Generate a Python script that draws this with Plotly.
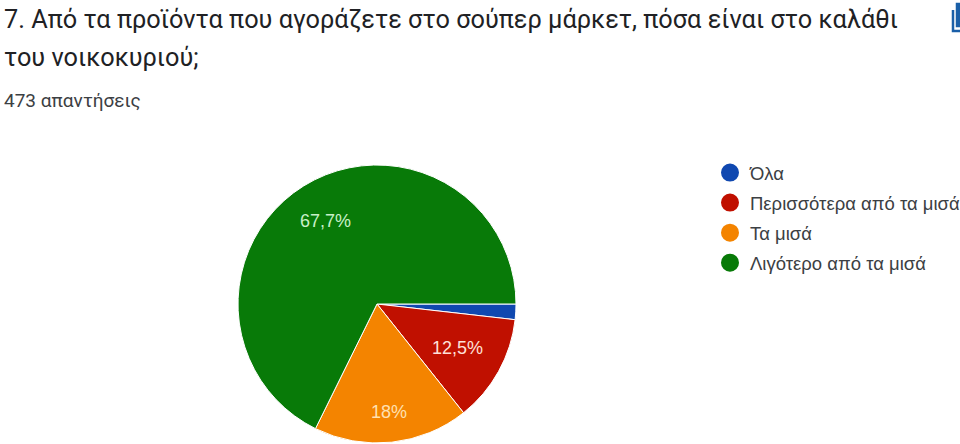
import math
import plotly.graph_objects as go

categories = ["Όλα", "Περισσότερα από τα μισά", "Τα μισά", "Λιγότερο από τα μισά"]
values = [1.8, 12.5, 18.0, 67.7]
slice_labels = ["", "12,5%", "18%", "67,7%"]
label_radius = [0.0, 0.66, 0.78, 0.70]
label_colors = ["#ffffff", "#ffe0d8", "#ffe0b0", "#c8f0c8"]
colors = ["#1048b0", "#c01000", "#f48400", "#087a08"]
title_lines = [
    "7. Από τα προϊόντα που αγοράζετε στο σούπερ μάρκετ, πόσα είναι στο καλάθι",
    "του νοικοκυριού;",
]
subtitle = "473 απαντήσεις"

W, H = 960, 444
FONT = "Roboto, Arial, sans-serif"
PIE_X0, PIE_X1, PIE_Y0, PIE_Y1 = 238, 516, 1, 279

fig = go.Figure()
fig.add_trace(go.Pie(
    labels=categories, values=values,
    textinfo="none",
    marker=dict(colors=colors, line=dict(color="#ffffff", width=1)),
    sort=False, direction="clockwise", rotation=90,
    domain=dict(x=[PIE_X0 / W, PIE_X1 / W], y=[PIE_Y0 / H, PIE_Y1 / H]),
    showlegend=False, hoverinfo="label+percent",
))
for name, color in zip(categories, colors):
    fig.add_trace(go.Scatter(
        x=[None], y=[None], mode="markers", name=name, legendgroup=name,
        marker=dict(color=color, size=16, symbol="circle", line=dict(color=color, width=2)),
    ))

# Slice labels sit on each slice's bisector, derived from the values.
cx, cy, R = (PIE_X0 + PIE_X1) / 2, (PIE_Y0 + PIE_Y1) / 2, (PIE_X1 - PIE_X0) / 2
total = sum(values)
cum = 0.0
for val, lab, rad, lc in zip(values, slice_labels, label_radius, label_colors):
    mid = (cum + val / 2) / total * 2 * math.pi
    cum += val
    if lab:
        fig.add_annotation(text=lab, x=cx + rad * R * math.cos(mid), y=cy - rad * R * math.sin(mid),
                           xref="x", yref="y", showarrow=False, xanchor="center", yanchor="middle",
                           font=dict(size=18, color=lc, family="Liberation Sans, Arial"))

fig.add_annotation(text=title_lines[0], x=2, y=H - 19, xref="x", yref="y", showarrow=False,
                   xanchor="left", yanchor="middle", font=dict(size=25.3, color="#202124", family=FONT))
fig.add_annotation(text=title_lines[1], x=2, y=H - 57, xref="x", yref="y", showarrow=False,
                   xanchor="left", yanchor="middle", font=dict(size=25.3, color="#202124", family=FONT))
fig.add_annotation(text=subtitle, x=2, y=H - 100, xref="x", yref="y", showarrow=False,
                   xanchor="left", yanchor="middle", font=dict(size=19, color="#3c4043", family=FONT))

fig.update_layout(
    width=W, height=H, margin=dict(l=0, r=0, t=0, b=0, autoexpand=False),
    paper_bgcolor="#ffffff", plot_bgcolor="#ffffff",
    xaxis=dict(range=[0, W], visible=False, fixedrange=True),
    yaxis=dict(range=[0, H], visible=False, fixedrange=True),
    legend=dict(x=710 / W, y=1 - 154 / H, xanchor="left", yanchor="top",
                font=dict(size=18.5, color="#3c4043", family="Liberation Sans, Arial"),
                tracegroupgap=3, itemsizing="trace", bgcolor="rgba(0,0,0,0)"),
    shapes=[
        dict(type="path", path=f"M 953 {H-10} L 953 {H-31} L 960 {H-31}", xref="x", yref="y",
             line=dict(color="#1a5fa8", width=2.5)),
        dict(type="rect", x0=957, x1=964, y0=H - 26, y1=H - 4, xref="x", yref="y",
             line=dict(color="#1a5fa8", width=2.5), fillcolor="#1a5fa8"),
    ],
)
fig.write_html("out.html", post_script="document.body.style.margin='0';",
               config={"displayModeBar": False})
